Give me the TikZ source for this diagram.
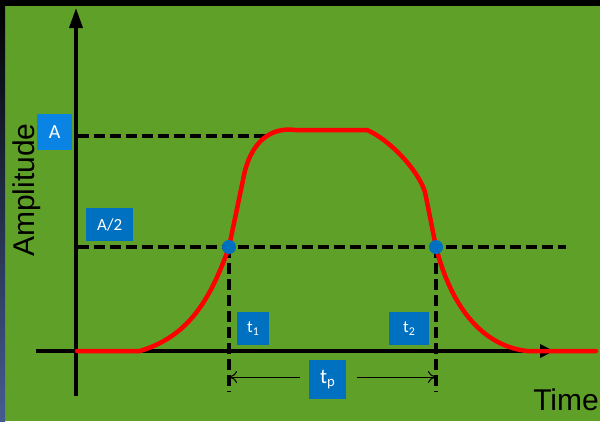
\documentclass[tikz,border=0pt]{standalone}
\usepackage{fontspec}
\setmainfont{Carlito}
\newfontfamily\arialf{Liberation Sans}
\usetikzlibrary{arrows.meta}
\definecolor{bggreen}{RGB}{95,161,40}
\definecolor{boxblue}{RGB}{0,112,192}
\definecolor{boxblueA}{RGB}{10,132,228}
\definecolor{edgeblue}{RGB}{70,92,145}
\tikzset{
  lab/.style={fill=boxblue, text=white, font=\fontsize{17}{17}\selectfont, inner sep=0pt, anchor=north west},
  axis/.style={line width=3.5pt},
  dashline/.style={line width=4pt, dash pattern=on 11pt off 5pt},
  pulse/.style={red, line width=4.5pt, line cap=round, line join=round},
  dotm/.style={circle, fill=boxblue, inner sep=0pt, minimum size=14pt},
  thin arrow/.style={line width=1pt, -{To[length=8pt,width=12pt]}}
}
\begin{document}
\begin{tikzpicture}[x=1pt,y=-1pt]
\useasboundingbox (0,0) rectangle (600,421);
% background
\fill[bggreen] (0,0) rectangle (600,421);
\fill[black] (0,0) rectangle (600,6);
\shade[top color=black, bottom color=edgeblue] (0,0) rectangle (5,421);
% reference points
\coordinate (o) at (76,351);
\coordinate (ytop) at (76,8);
\coordinate (ybot) at (76,396);
\coordinate (xl) at (36,351);
\coordinate (xr) at (554,351);
\coordinate (p1) at (229,247);
\coordinate (p2) at (436,247);
% dashed guides
\draw[dashline] (78,136) -- (265,136);
\draw[dashline] (78,247) -- (566,247);
\draw[dashline] (229,247) -- (229,392);
\draw[dashline] (436,247) -- (436,392);
% axes
\draw[axis, -{Triangle[length=20pt,width=13pt]}] (ybot) -- (ytop);
\draw[axis, -{Triangle[length=14pt,width=13pt]}] (xl) -- (xr);
% pulse
\draw[pulse] (77,351) -- (140,351)
  .. controls (182,338) and (207,310) .. (p1)
  -- (243,180)
  .. controls (250,140) and (272,127) .. (295,130)
  -- (367,130)
  .. controls (390,140) and (418,170) .. (425,192)
  -- (p2)
  .. controls (448,295) and (475,345) .. (527,351)
  -- (596,351);
% dots
\node[dotm] (d1) at (p1) {};
\node[dotm] (d2) at (p2) {};
% labels
\node[lab, fill=boxblueA, minimum width=35pt, minimum height=36pt, font=\fontsize{20}{20}\selectfont] (lA) at (37,114) {A};
\node[lab, minimum width=47pt, minimum height=33pt] (lA2) at (86,208) {A/2};
\node[lab, minimum width=32pt, minimum height=33pt] (lt1) at (237,312) {t\textsubscript{1}};
\node[lab, minimum width=40pt, minimum height=33pt] (lt2) at (389,312) {t\textsubscript{2}};
\node[lab, minimum width=37pt, minimum height=39pt, font=\fontsize{21}{21}\selectfont] (ltp) at (309,360) {t\textsubscript{p}};
% tp arrows
\draw[thin arrow] (ltp.west |- 0,377) ++(-9,0) coordinate (al) -- (p1 |- al);
\draw[thin arrow] (ltp.east |- 0,377) ++(11,0) coordinate (ar) -- (p2 |- ar);
% axis titles
\node[font=\arialf\fontsize{30}{30}\selectfont, rotate=90, anchor=center] (amp) at (27,190) {Amplitude};
\node[font=\arialf\fontsize{30}{30}\selectfont, anchor=base east, inner sep=0pt] (time) at (599,410) {Time};
\end{tikzpicture}
\end{document}
